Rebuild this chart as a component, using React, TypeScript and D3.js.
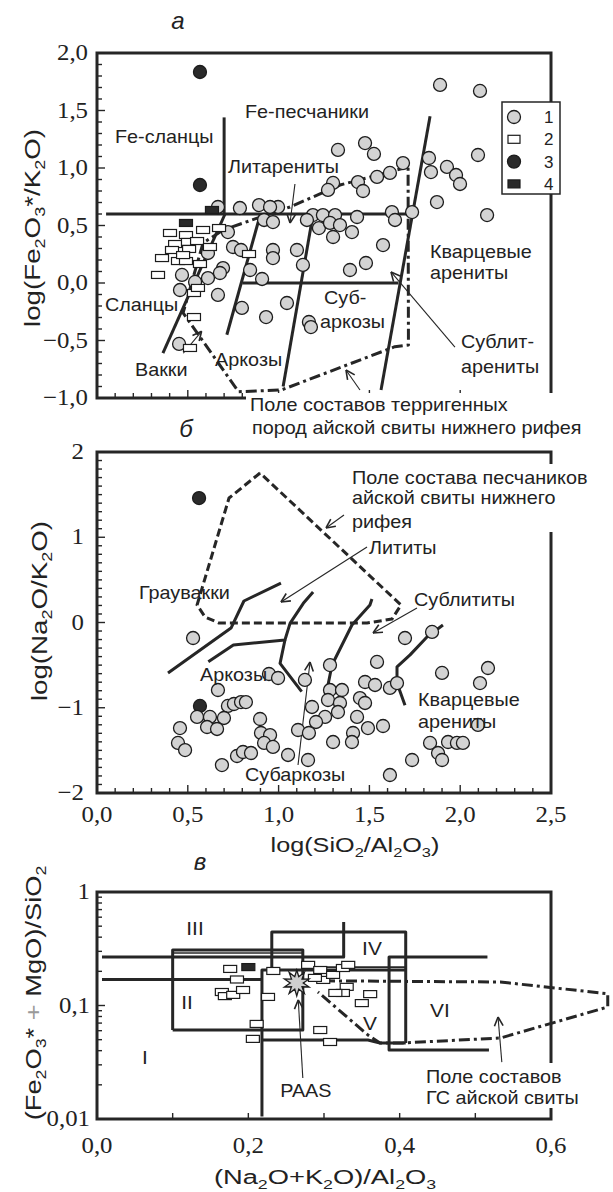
import React, { useEffect, useRef } from "react";
import * as d3 from "d3";

type Pt = [number, number];

// ---------- panel а : log(SiO2/Al2O3) vs log(Fe2O3*/K2O)
const aSandstones: Pt[] = [
  [1.889, 1.722], [2.109, 1.67], [1.327, 1.157], [1.476, 1.217], [1.525, 1.122],
  [2.098, 1.113], [1.828, 1.087], [1.839, 0.965], [1.927, 1.009], [1.977, 0.939],
  [1.999, 0.861], [1.685, 1.043], [1.613, 0.957], [1.542, 0.922], [1.437, 0.878],
  [1.465, 0.8], [1.3, 0.87], [1.272, 0.809], [1.872, 0.704], [2.148, 0.591],
  [1.735, 0.617], [1.624, 0.617], [1.641, 0.548], [1.432, 0.574], [1.189, 0.591],
  [1.244, 0.591], [1.311, 0.591], [1.156, 0.548], [1.222, 0.478], [1.283, 0.522],
  [1.338, 0.504], [1.404, 0.443], [1.3, 0.4], [1.575, 0.33], [1.101, 0.287],
  [0.997, 0.661], [0.666, 0.661], [0.787, 0.652], [0.892, 0.678], [0.953, 0.661],
  [0.92, 0.548], [0.969, 0.53], [0.721, 0.443], [0.749, 0.313], [0.793, 0.287],
  [0.969, 0.287], [0.969, 0.217], [0.843, 0.113], [0.909, 0.035], [1.134, 0.157],
  [0.694, 0.13], [0.677, 0.087], [0.611, 0.043], [0.611, 0.261], [0.468, 0.07],
  [0.54, 0.009], [0.457, -0.061], [0.666, -0.104], [0.798, -0.217], [0.931, -0.296],
  [1.046, -0.174], [1.167, -0.339], [1.178, -0.383], [0.452, -0.53], [1.481, 0.174],
  [1.393, 0.113],
];
const aShales: Pt[] = [
  [0.402, 0.435], [0.49, 0.417], [0.584, 0.461], [0.672, 0.478], [0.43, 0.339],
  [0.501, 0.357], [0.551, 0.365], [0.622, 0.313], [0.413, 0.287], [0.507, 0.296],
  [0.358, 0.217], [0.446, 0.191], [0.49, 0.191], [0.567, 0.165], [0.336, 0.07],
  [0.837, 0.252], [0.534, -0.087], [0.556, -0.043], [0.534, -0.296], [0.512, -0.565],
  [0.474, 0.243],
];
const aBlackDots: Pt[] = [[0.567, 1.835], [0.567, 0.852]];
const aBlackRects: Pt[] = [[0.633, 0.635], [0.49, 0.522]];
const aBoundaries: Pt[][] = [
  [[0.05, 0.6], [1.73, 0.6]],
  [[0.7, 0.6], [0.7, 1.44]],
  [[1.834, 1.45], [1.564, -0.93]],
  [[0.8, 0], [1.66, 0]],
  [[0.705, 0.6], [0.363, -0.61]],
  [[0.9, 0.6], [0.715, -0.45]],
  [[1.19, 0.6], [1.025, -0.9]],
];
const aField: Pt[] = [
  [1.713, 1.009], [1.338, 0.852], [1.063, 0.661], [0.87, 0.557], [0.694, 0.461],
  [0.584, 0.348], [0.474, -0.26], [0.779, -0.945], [1.016, -0.93], [1.64, -0.554],
  [1.715, -0.539], [1.713, 1.009],
];
const aArrows: [Pt, Pt][] = [
  [[1.09, 0.861], [1.063, 0.522]],
  [[0.475, -0.611], [0.576, -0.42]],
  [[1.971, -0.557], [1.619, 0.096]],
  [[1.448, -0.93], [1.371, -0.757]],
];
const aYTicks = [2, 1.5, 1, 0.5, 0, -0.5, -1];
const aLabels: { text: string; at: Pt }[] = [
  { text: "Fe-песчаники", at: [0.815, 1.435] },
  { text: "Fe-сланцы", at: [0.099, 1.217] },
  { text: "Литарениты", at: [0.721, 0.957] },
  { text: "Кварцевые", at: [1.834, 0.217] },
  { text: "арениты", at: [1.834, 0.035] },
  { text: "Суб-", at: [1.25, -0.183] },
  { text: "аркозы", at: [1.228, -0.391] },
  { text: "Сланцы", at: [0.044, -0.243] },
  { text: "Вакки", at: [0.209, -0.809] },
  { text: "Аркозы", at: [0.65, -0.722] },
  { text: "Сублит-", at: [2.004, -0.565] },
  { text: "арениты", at: [2.004, -0.783] },
  { text: "Поле составов терригенных", at: [0.843, -1.113] },
  { text: "пород айской свиты нижнего рифея", at: [0.854, -1.313] },
];
const legendItems = ["1", "2", "3", "4"];

// ---------- panel б : log(SiO2/Al2O3) vs log(Na2O/K2O)
const bSandstones: Pt[] = [
  [0.529, -0.182], [0.666, -0.792], [0.721, -0.979], [0.754, -0.956], [0.793, -0.933],
  [0.82, -0.933], [0.551, -1.108], [0.622, -1.108], [0.699, -1.12], [0.606, -1.226],
  [0.661, -1.249], [0.457, -1.238], [0.446, -1.413], [0.485, -1.496], [0.898, -1.132],
  [0.903, -1.296], [0.953, -1.32], [0.92, -1.413], [0.969, -1.46], [0.771, -1.566],
  [0.804, -1.519], [0.848, -1.531], [0.688, -1.672], [1.052, -1.554], [1.162, -1.613],
  [1.107, -1.261], [1.167, -1.296], [0.947, -0.604], [0.997, -0.651], [1.145, -0.674],
  [1.283, -0.499], [1.283, -0.792], [1.349, -0.792], [1.272, -0.909], [1.338, -0.944],
  [1.184, -0.991], [1.256, -1.108], [1.327, -1.05], [1.206, -1.167], [1.3, -1.402],
  [1.542, -0.463], [1.476, -0.698], [1.531, -0.733], [1.448, -0.886], [1.476, -0.944],
  [1.432, -1.108], [1.492, -1.238], [1.575, -1.214], [1.41, -1.296], [1.404, -1.402],
  [1.613, -0.768], [1.652, -0.71], [1.696, -0.182], [1.845, -0.111], [1.9, -0.592],
  [2.153, -0.534], [2.109, -0.71], [2.098, -1.202], [1.834, -1.413], [1.878, -1.531],
  [1.9, -1.613], [1.933, -1.402], [1.982, -1.413], [2.015, -1.413], [1.735, -1.613],
  [1.613, -1.789],
];
const bBlackDots: Pt[] = [[0.562, 1.46], [0.567, -0.979]];
const bBoundaries: Pt[][] = [
  [[0.391, -0.592], [0.738, -0.065], [0.809, 0.252], [1.013, 0.463]],
  [[0.613, -0.46], [0.751, -0.264], [1.035, -0.205], [1.063, -0.01], [1.136, 0.225], [1.19, 0.358]],
  [[1.035, -0.205], [1.008, -0.479], [1.127, -0.81]],
  [[1.272, -0.733], [1.294, -0.499], [1.404, -0.029], [1.503, 0.205], [1.514, 0.276]],
  [[1.905, -0.03], [1.817, -0.17], [1.724, -0.38], [1.652, -0.52], [1.652, -0.71], [1.696, -0.97]],
];
const bField: Pt[] = [
  [0.898, 1.754], [0.727, 1.46], [0.551, 0.205], [0.595, 0.065], [0.672, -0.006],
  [1.487, -0.006], [1.624, 0.04], [1.674, 0.205], [0.898, 1.754],
];
const bArrows: [Pt, Pt][] = [
  [[1.36, 1.261], [1.261, 1.109]],
  [[1.487, 0.886], [1.013, 0.24]],
  [[1.762, 0.17], [1.52, -0.123]],
  [[1.107, -1.671], [1.173, -0.463]],
];
const bYTicks = [2, 1, 0, -1, -2];
const xTicks = [0, 0.5, 1, 1.5, 2, 2.5];
const bLabels: { text: string; at: Pt }[] = [
  { text: "Поле состава песчаников", at: [1.404, 1.625] },
  { text: "айской свиты нижнего", at: [1.404, 1.39] },
  { text: "рифея", at: [1.404, 1.109] },
  { text: "Лититы", at: [1.498, 0.804] },
  { text: "Граувакки", at: [0.231, 0.276] },
  { text: "Сублититы", at: [1.746, 0.194] },
  { text: "Аркозы", at: [0.567, -0.686] },
  { text: "Кварцевые", at: [1.768, -0.979] },
  { text: "арениты", at: [1.768, -1.238] },
  { text: "Субаркозы", at: [0.815, -1.865] },
];

// ---------- panel в : (Na2O+K2O)/Al2O3 vs (Fe2O3*+MgO)/SiO2
const cShales: Pt[] = [
  [0.176, 0.21], [0.185, 0.1695], [0.165, 0.1315], [0.169, 0.121], [0.18, 0.124],
  [0.193, 0.137], [0.233, 0.2015], [0.226, 0.119], [0.211, 0.0688], [0.206, 0.0508],
  [0.279, 0.228], [0.295, 0.2055], [0.299, 0.168], [0.312, 0.186], [0.325, 0.214],
  [0.332, 0.228], [0.288, 0.175], [0.295, 0.0608], [0.308, 0.0477], [0.33, 0.146],
  [0.325, 0.129], [0.315, 0.129], [0.361, 0.126], [0.35, 0.105],
];
const cBlackRects: Pt[] = [[0.2, 0.218]];
const paas: Pt = [0.264, 0.158];
const cBoundaries: Pt[][] = [
  [[0.0066, 0.2675], [0.326, 0.2675], [0.326, 0.544]],
  [[0.0066, 0.1695], [0.218, 0.1695]],
  [[0.1, 0.0608], [0.1, 0.308], [0.272, 0.308], [0.272, 0.0608], [0.1, 0.0608]],
  [[0.231, 0.2055], [0.231, 0.444], [0.408, 0.444], [0.408, 0.0468]],
  [[0.218, 0.0105], [0.218, 0.2055], [0.408, 0.2055]],
  [[0.218, 0.0497], [0.358, 0.0497], [0.374, 0.0468], [0.408, 0.0468]],
  [[0.516, 0.2675], [0.386, 0.2675], [0.386, 0.0406], [0.518, 0.0406]],
];
const cThinBoundaries: Pt[][] = [
  [[0.1, 0.29], [0.272, 0.29]],
  [[0.272, 0.218], [0.408, 0.218]],
];
const cField: Pt[] = [
  [0.3, 0.165], [0.533, 0.161], [0.675, 0.127], [0.675, 0.097], [0.533, 0.0517],
  [0.404, 0.0468], [0.374, 0.0468], [0.358, 0.055], [0.292, 0.1315],
];
const cArrows: [Pt, Pt][] = [
  [[0.272, 0.023], [0.266, 0.112]],
  [[0.535, 0.0317], [0.53, 0.0792]],
];
const cXTicks = [0, 0.2, 0.4, 0.6];
const cYTicks = [1, 0.1, 0.01];
const cRoman: { text: string; at: Pt }[] = [
  { text: "III", at: [0.1295, 0.418] },
  { text: "II", at: [0.119, 0.0931] },
  { text: "IV", at: [0.3634, 0.2786] },
  { text: "V", at: [0.3608, 0.0608] },
  { text: "VI", at: [0.4533, 0.0792] },
  { text: "I", at: [0.0634, 0.0305] },
];
const cLabels: { text: string; at: Pt; anchor: string }[] = [
  { text: "PAAS", at: [0.276, 0.0156], anchor: "middle" },
  { text: "Поле составов", at: [0.4348, 0.0208], anchor: "start" },
  { text: "ГС айской свиты", at: [0.4348, 0.01355], anchor: "start" },
];

const INK = "#262626";
const SANS = "'Liberation Sans', Arial, sans-serif";
const SERIF = "'Liberation Serif', 'Times New Roman', serif";

const fmt = (v: number, d: number) =>
  d3.format(`.${d}f`)(v).replace(".", ",").replace("-", "−");

const App: React.FC = () => {
  const svgRef = useRef<SVGSVGElement>(null);

  useEffect(() => {
    if (!svgRef.current) return;
    const svg = d3.select(svgRef.current);
    svg.selectAll("*").remove();

    const xL = d3.scaleLinear().domain([0, 2.5]).range([97, 551]);
    const yA = d3.scaleLinear().domain([-1, 2]).range([398, 53]);
    const yB = d3.scaleLinear().domain([-2, 2]).range([793, 452]);
    const xC = d3.scaleLinear().domain([0, 0.6]).range([97, 551]);
    const yC = d3.scaleLog().domain([0.01, 1]).range([1119, 892]);

    // text with "_x" = subscript character
    const text = (
      g: any, s: string, x: number, y: number,
      o: { size?: number; anchor?: string; font?: string; sx?: number; rot?: boolean; italic?: boolean; grayPlus?: boolean } = {}
    ) => {
      const size = o.size ?? 18;
      const t = g.append("text")
        .attr("transform", `translate(${x},${y})${o.rot ? " rotate(-90)" : ""} scale(${o.sx ?? 1},1)`)
        .attr("font-family", o.font ?? SANS)
        .attr("font-size", size)
        .attr("font-style", o.italic ? "italic" : "normal")
        .attr("text-anchor", o.anchor ?? "start")
        .attr("fill", "#222");
      const parts: { t: string; sub: boolean }[] = [];
      let buf = "";
      for (let k = 0; k < s.length; k++) {
        if (s[k] === "_") {
          if (buf) parts.push({ t: buf, sub: false });
          buf = "";
          parts.push({ t: s[k + 1], sub: true });
          k++;
        } else if (o.grayPlus && s[k] === "+") {
          if (buf) parts.push({ t: buf, sub: false });
          buf = "";
          parts.push({ t: "+", sub: false });
        } else buf += s[k];
      }
      if (buf) parts.push({ t: buf, sub: false });
      let down = false;
      parts.forEach((p) => {
        const ts = t.append("tspan").text(p.t);
        if (p.t === "+" && o.grayPlus) ts.attr("fill", "#9a9a9a");
        if (p.sub) {
          ts.attr("font-size", size * 0.65);
          if (!down) { ts.attr("dy", size * 0.22); down = true; }
        } else if (down) {
          ts.attr("dy", -size * 0.22);
          down = false;
        }
      });
      return t;
    };

    const path = (g: any, pts: Pt[], x: any, y: any, w: number, dash?: string) =>
      g.append("path")
        .attr("d", d3.line<Pt>().x((d) => x(d[0])).y((d) => y(d[1]))(pts))
        .attr("fill", "none")
        .attr("stroke", INK)
        .attr("stroke-width", w)
        .attr("stroke-linejoin", "round")
        .attr("stroke-dasharray", dash ?? null);

    const arrow = (g: any, a: Pt, b: Pt, x: any, y: any) => {
      const x1 = x(a[0]), y1 = y(a[1]), x2 = x(b[0]), y2 = y(b[1]);
      g.append("line").attr("x1", x1).attr("y1", y1).attr("x2", x2).attr("y2", y2)
        .attr("stroke", INK).attr("stroke-width", 1.1);
      const ang = Math.atan2(y1 - y2, x1 - x2);
      [-0.45, 0.45].forEach((da) => {
        g.append("line").attr("x1", x2).attr("y1", y2)
          .attr("x2", x2 + 10 * Math.cos(ang + da)).attr("y2", y2 + 10 * Math.sin(ang + da))
          .attr("stroke", INK).attr("stroke-width", 1.6);
      });
    };

    const circles = (g: any, pts: Pt[], x: any, y: any, fill: string) =>
      g.selectAll(null).data(pts).enter().append("circle")
        .attr("cx", (d: Pt) => x(d[0])).attr("cy", (d: Pt) => y(d[1]))
        .attr("r", 6.5).attr("fill", fill).attr("stroke", "#1c1c1c").attr("stroke-width", 1.3);

    const rects = (g: any, pts: Pt[], x: any, y: any, fill: string) =>
      g.selectAll(null).data(pts).enter().append("rect")
        .attr("x", (d: Pt) => x(d[0]) - 6.5).attr("y", (d: Pt) => y(d[1]) - 3.5)
        .attr("width", 13).attr("height", 7)
        .attr("fill", fill).attr("stroke", "#1c1c1c").attr("stroke-width", 1.2);

    const frame = (g: any, x: any, y: any) => {
      const [x0, x1] = x.range();
      const [y0, y1] = y.range();
      g.append("rect").attr("x", x0).attr("y", y1).attr("width", x1 - x0).attr("height", y0 - y1)
        .attr("fill", "none").attr("stroke", INK).attr("stroke-width", 3);
    };

    const tick = (g: any, x1: number, y1: number, x2: number, y2: number) =>
      g.append("line").attr("x1", x1).attr("y1", y1).attr("x2", x2).attr("y2", y2)
        .attr("stroke", INK).attr("stroke-width", 1.4);

    const whiteBox = (g: any, x: number, y: number, w: number, h: number) =>
      g.append("rect").attr("x", x).attr("y", y).attr("width", w).attr("height", h).attr("fill", "#fff");

    // ================= panel а =================
    const gA = svg.append("g");
    frame(gA, xL, yA);
    d3.range(-10, 21).forEach((i) => {
      const v = i / 10;
      tick(gA, 97, yA(v), 97 + (i % 5 === 0 ? 8 : 5), yA(v));
    });
    d3.range(1, 25).forEach((i) => tick(gA, xL(i / 10), 398, xL(i / 10), 398 - (i % 5 === 0 ? 8 : 5)));
    aYTicks.forEach((v) => text(gA, fmt(v, 1), 88, yA(v) + 7, { size: 23, font: SERIF, anchor: "end", sx: 1.08 }));
    text(gA, "а", xL(0.446), yA(2.209), { size: 24, italic: true, anchor: "middle" });
    text(gA, "log(Fe_2O_3*/K_2O)", 40, 228, { size: 22, rot: true, anchor: "middle", sx: 1.26 });

    aBoundaries.forEach((l) => path(gA, l, xL, yA, 3));
    path(gA, aField, xL, yA, 3, "11,4,3,4");
    aArrows.forEach(([a, b]) => arrow(gA, a, b, xL, yA));
    circles(gA, aBlackDots, xL, yA, "#2a2a2a");
    circles(gA, aSandstones, xL, yA, "#d3d3d3");
    rects(gA, aShales, xL, yA, "#fff");
    rects(gA, aBlackRects, xL, yA, "#2a2a2a");

    // legend
    const lg = gA.append("g");
    lg.append("rect").attr("x", 502).attr("y", 102).attr("width", 58).attr("height", 92)
      .attr("fill", "#fff").attr("stroke", INK).attr("stroke-width", 1.5);
    legendItems.forEach((s, i) => {
      const cy = 117 + i * 22.3;
      if (i === 0 || i === 2) {
        lg.append("circle").attr("cx", 514).attr("cy", cy).attr("r", 6.5)
          .attr("fill", i === 0 ? "#d3d3d3" : "#2a2a2a").attr("stroke", "#1c1c1c").attr("stroke-width", 1.3);
      } else {
        lg.append("rect").attr("x", 508).attr("y", cy - 4).attr("width", 12).attr("height", 8)
          .attr("fill", i === 1 ? "#fff" : "#2a2a2a").attr("stroke", "#1c1c1c").attr("stroke-width", 1.2);
      }
      text(lg, s, 544, cy + 6, { size: 17 });
    });

    whiteBox(gA, 246, 393, 360, 48);
    aLabels.forEach((l) => text(gA, l.text, xL(l.at[0]), yA(l.at[1]), { size: 18, sx: 1.1 }));

    // ================= panel б =================
    const gB = svg.append("g");
    frame(gB, xL, yB);
    d3.range(-20, 21).forEach((i) => tick(gB, 97, yB(i / 10), 97 + (i % 10 === 0 ? 8 : 5), yB(i / 10)));
    d3.range(1, 25).forEach((i) => tick(gB, xL(i / 10), 793, xL(i / 10), 793 - (i % 5 === 0 ? 8 : 5)));
    bYTicks.forEach((v) => text(gB, fmt(v, 0), 84, yB(v) + 7, { size: 23, font: SERIF, anchor: "end", sx: 1.08 }));
    xTicks.forEach((v) => text(gB, fmt(v, 1), xL(v), 822, { size: 23, font: SERIF, anchor: "middle", sx: 1.08 }));
    text(gB, "б", xL(0.49), yB(2.176), { size: 24, italic: true, anchor: "middle" });
    text(gB, "log(Na_2O/K_2O)", 47, 611, { size: 22, rot: true, anchor: "middle", sx: 1.26 });
    text(gB, "log(SiO_2/Al_2O_3)", 355, 852, { size: 21, anchor: "middle", sx: 1.2 });

    whiteBox(gB, 350, 464, 250, 68);
    bBoundaries.forEach((l) => path(gB, l, xL, yB, 3));
    path(gB, bField, xL, yB, 3, "8,4");
    bArrows.forEach(([a, b]) => arrow(gB, a, b, xL, yB));
    circles(gB, bBlackDots, xL, yB, "#2a2a2a");
    circles(gB, bSandstones, xL, yB, "#d3d3d3");
    bLabels.forEach((l) => text(gB, l.text, xL(l.at[0]), yB(l.at[1]), { size: 18, sx: 1.1 }));

    // ================= panel в =================
    const gC = svg.append("g");
    frame(gC, xC, yC);
    [0.01, 0.1].forEach((dec) => {
      d3.range(1, 10).forEach((m) => {
        const v = dec * m;
        tick(gC, 97, yC(v), 97 + (m === 1 ? 8 : 5), yC(v));
      });
    });
    d3.range(1, 6).forEach((i) => tick(gC, xC(i / 10), 1119, xC(i / 10), 1113));
    cYTicks.forEach((v) => text(gC, v === 1 ? "1" : fmt(v, v === 0.1 ? 1 : 2), 90, yC(v) + 7, { size: 23, font: SERIF, anchor: "end", sx: 1.08 }));
    cXTicks.forEach((v) => text(gC, fmt(v, 1), xC(v), 1153, { size: 23, font: SERIF, anchor: "middle", sx: 1.08 }));
    text(gC, "в", xC(0.136), yC(1.563), { size: 24, italic: true, anchor: "middle" });
    text(gC, "(Fe_2O_3* + MgO)/SiO_2", 41, 993, { size: 22, rot: true, anchor: "middle", sx: 1.24, grayPlus: true });
    text(gC, "(Na_2O+K_2O)/Al_2O_3", 325, 1184, { size: 21, anchor: "middle", sx: 1.3 });

    whiteBox(gC, 424, 1063, 170, 45);
    path(gC, cField, xC, yC, 3, "11,4,3,4");
    cBoundaries.forEach((l) => path(gC, l, xC, yC, 3));
    cThinBoundaries.forEach((l) => path(gC, l, xC, yC, 1.6));
    cArrows.forEach(([a, b]) => arrow(gC, a, b, xC, yC));
    rects(gC, cShales, xC, yC, "#fff");
    rects(gC, cBlackRects, xC, yC, "#2a2a2a");

    // PAAS star
    const star = d3.range(20).map((i) => {
      const r = i % 2 === 0 ? 13 : 6.5;
      const a = (i * Math.PI) / 10 - Math.PI / 2;
      return [r * Math.cos(a), r * Math.sin(a)] as [number, number];
    });
    gC.append("path")
      .attr("d", d3.line()(star) + "Z")
      .attr("transform", `translate(${xC(paas[0])},${yC(paas[1])})`)
      .attr("fill", "#cfcfcf").attr("stroke", "#1c1c1c").attr("stroke-width", 1.3);

    cRoman.forEach((l) => text(gC, l.text, xC(l.at[0]), yC(l.at[1]), { size: 19, anchor: "middle", sx: 1.1 }));
    cLabels.forEach((l) => text(gC, l.text, xC(l.at[0]), yC(l.at[1]), { size: 18, anchor: l.anchor, sx: 1.1 }));
  }, []);

  return (
    <svg
      ref={svgRef}
      width={613}
      height={1192}
      style={{ position: "absolute", left: 0, top: 0, background: "#fff" }}
    />
  );
};

export default App;
